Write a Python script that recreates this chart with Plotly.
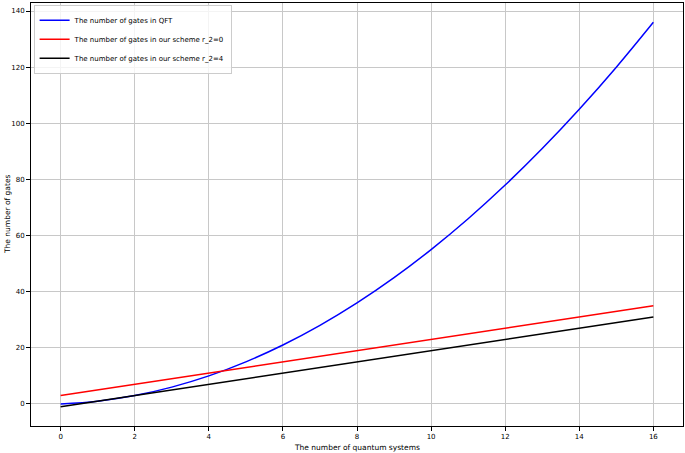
import plotly.graph_objects as go

# number of quantum systems
n_systems = list(range(0, 17))

# gates
qft_gates = [0, 1, 3, 6, 10, 15, 21, 28, 36, 45, 55, 66, 78, 91, 105, 120, 136]
scheme_r0 = [3, 5, 7, 9, 11, 13, 15, 17, 19, 21, 23, 25, 27, 29, 31, 33, 35]
scheme_r4 = [-1, 1, 3, 5, 7, 9, 11, 13, 15, 17, 19, 21, 23, 25, 27, 29, 31]

x_ticks = [0, 2, 4, 6, 8, 10, 12, 14, 16]
y_ticks = [0, 20, 40, 60, 80, 100, 120, 140]

fig = go.Figure()
fig.add_trace(go.Scatter(x=n_systems, y=qft_gates, mode="lines", line_shape="spline",
                         name="The number of gates in QFT",
                         line=dict(color="#0000ff", width=1.5)))
fig.add_trace(go.Scatter(x=n_systems, y=scheme_r0, mode="lines",
                         name="The number of gates in our scheme r_2=0",
                         line=dict(color="#ff0000", width=1.5)))
fig.add_trace(go.Scatter(x=n_systems, y=scheme_r4, mode="lines",
                         name="The number of gates in our scheme r_2=4",
                         line=dict(color="#000000", width=1.5)))

axis_style = dict(
    showgrid=True, gridcolor="#c8c8c8", gridwidth=1,
    showline=True, linecolor="black", linewidth=1, mirror=True,
    ticks="outside", ticklen=4, tickcolor="black", automargin=False,
    zeroline=False, tickfont=dict(size=7, color="black"),
)

fig.update_layout(
    width=685, height=453,
    margin=dict(l=31, r=2, t=3, b=27),
    plot_bgcolor="white", paper_bgcolor="white",
    font=dict(family="DejaVu Sans", size=7, color="black"),
    legend=dict(x=0.004, y=0.996, xanchor="left", yanchor="top",
                bgcolor="rgba(255,255,255,0.8)", bordercolor="#cccccc", borderwidth=1,
                font=dict(size=7), tracegroupgap=0, itemwidth=30),
    showlegend=True,
)
fig.update_xaxes(range=[-0.8, 16.8], tickvals=x_ticks, **axis_style)
fig.update_yaxes(range=[-7.85, 142.85], tickvals=y_ticks, **axis_style)

# axis titles placed like the original
fig.add_annotation(text="The number of quantum systems", xref="paper", yref="paper",
                   x=0.5, y=0, yshift=-15, yanchor="top", showarrow=False,
                   font=dict(size=7.5))
fig.add_annotation(text="The number of gates", xref="paper", yref="paper",
                   x=0, y=0.5, xshift=-30, xanchor="left", textangle=-90,
                   showarrow=False, font=dict(size=7.5))

# drop the default body margin so the figure sits at the page corner
fig.write_html("out.html", config={"displayModeBar": False},
               post_script="document.body.style.margin='0';")
